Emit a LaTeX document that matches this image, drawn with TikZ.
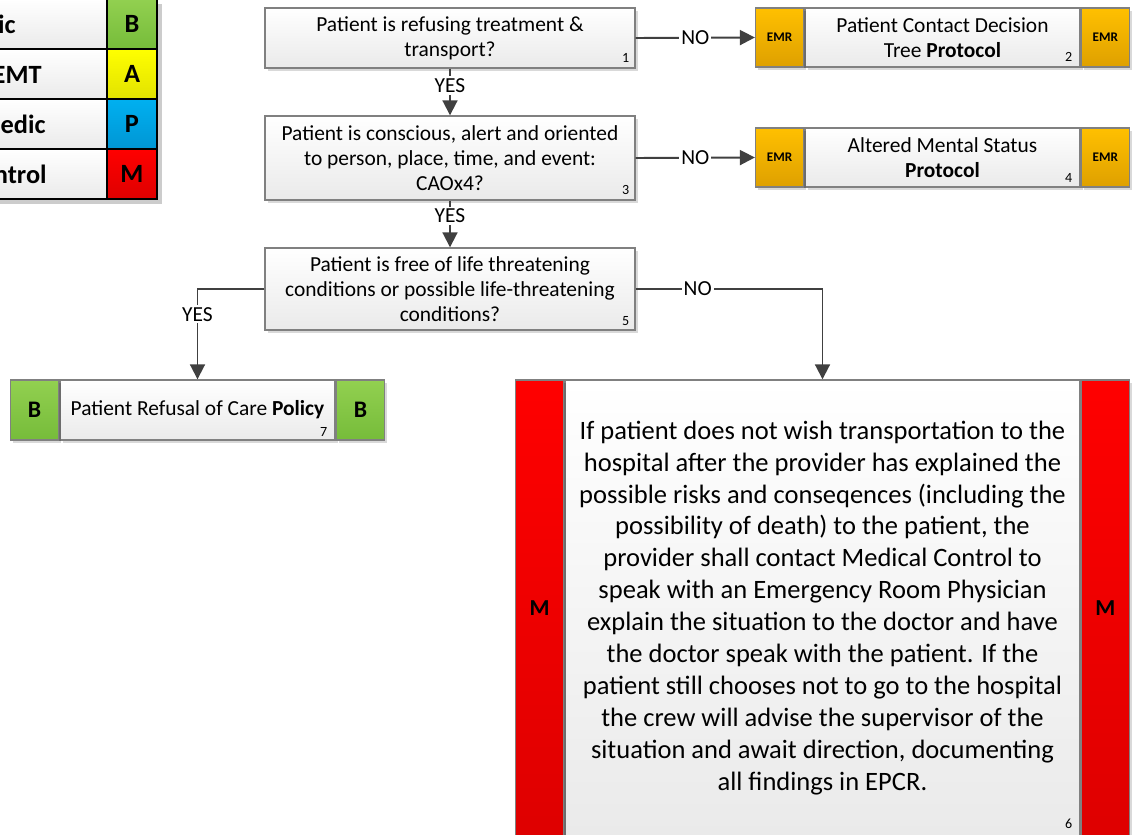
\documentclass[tikz,border=0pt]{standalone}
\usepackage{fontspec}
\setmainfont{Carlito}
\usepackage{tikz}
\usetikzlibrary{arrows.meta,shadows}
\definecolor{linecolor}{RGB}{64,64,64}
\definecolor{boxborder}{RGB}{128,128,128}
\definecolor{boxbottom}{RGB}{234,234,234}
\definecolor{emrtop}{RGB}{255,192,0}
\definecolor{emrbottom}{RGB}{222,160,0}
\definecolor{basictop}{RGB}{146,208,80}
\definecolor{basicbottom}{RGB}{118,188,58}
\definecolor{aemttop}{RGB}{255,255,0}
\definecolor{aemtbottom}{RGB}{226,226,0}
\definecolor{medictop}{RGB}{0,176,240}
\definecolor{medicbottom}{RGB}{0,150,212}
\definecolor{ctrltop}{RGB}{255,0,0}
\definecolor{ctrlbottom}{RGB}{222,0,0}
\newcommand{\pxu}{0.02cm}

\begin{document}
\begin{tikzpicture}[x=0.02cm, y=-0.02cm,
  shade/.style={drop shadow={shadow xshift=1.5pt, shadow yshift=-1.5pt, fill=black, opacity=0.15}},
  box/.style={shade, draw=boxborder, line width=0.8pt, top color=white, bottom color=boxbottom,
    align=center, inner sep=0pt, font=\fontsize{12.2}{14.2}\selectfont},
  bigbox/.style={box, font=\fontsize{15.1}{18.2}\selectfont},
  tag/.style={shade, draw=boxborder, line width=0.8pt, inner sep=0pt, minimum width=48*\pxu},
  emr/.style={tag, top color=emrtop, bottom color=emrbottom, font=\fontsize{7.5}{8}\selectfont\bfseries},
  bls/.style={tag, top color=basictop, bottom color=basicbottom, font=\fontsize{13.5}{15}\selectfont\bfseries},
  mc/.style={tag, top color=ctrltop, bottom color=ctrlbottom, font=\fontsize{13}{15}\selectfont\bfseries},
  num/.style={inner sep=0pt, font=\fontsize{8}{9}\selectfont},
  lbl/.style={fill=white, inner sep=1.2pt, font=\fontsize{12.2}{14}\selectfont},
  flow/.style={draw=linecolor, line width=1.1pt, -{Triangle[length=8.5pt,width=8.5pt]}},
  legcell/.style={draw=black, line width=1.7pt, inner sep=0pt, minimum height=50*\pxu}
]
\useasboundingbox (0,0) rectangle (1134,835);
\clip (0,0) rectangle (1134,835);

% Legend
\fill[black!20] (-300,4) rectangle (162,204);
\foreach \lab/\ltr/\col/\xe [count=\i] in {Basic/B/basic/16, Advanced EMT/A/aemt/42, Paramedic/P/medic/46, Medical Control/M/ctrl/47}{
  \node[legcell, minimum width=407*\pxu, top color=white, bottom color=boxbottom] (leg\i) at (-96.5,{-26+50*\i}) {};
  \node[legcell, minimum width=50*\pxu, top color=\col top, bottom color=\col bottom,
    font=\fontsize{15}{17}\selectfont\bfseries] (legtag\i) at (132,{-26+50*\i}) {\ltr};
  \node[anchor=east, inner sep=0pt, font=\fontsize{15}{17}\selectfont\bfseries] (legtxt\i) at (\xe,{-26+50*\i}) {\lab};
}

% Decision boxes
\node[box, minimum width=370*\pxu, minimum height=60*\pxu] (b1) at (450,38)
  {Patient is refusing treatment \&\\transport?};
\node[box, minimum width=370*\pxu, minimum height=84*\pxu] (b3) at (450,158)
  {Patient is conscious, alert and oriented\\to person, place, time, and event:\\CAOx4?};
\node[box, minimum width=370*\pxu, minimum height=82*\pxu] (b5) at (450,289)
  {Patient is free of life threatening\\conditions or possible life-threatening\\conditions?};

% Protocol boxes
\node[box, minimum width=275*\pxu, minimum height=59*\pxu] (b2) at (942.5,37.5)
  {Patient Contact Decision\\Tree \textbf{Protocol}};
\node[emr, minimum height=59*\pxu, anchor=east] (t2l) at (b2.west) {EMR};
\node[emr, minimum height=59*\pxu, anchor=west] (t2r) at (b2.east) {EMR};

\node[box, minimum width=275*\pxu, minimum height=59*\pxu] (b4) at (942.5,157.5)
  {Altered Mental Status\\\textbf{Protocol}};
\node[emr, minimum height=59*\pxu, anchor=east] (t4l) at (b4.west) {EMR};
\node[emr, minimum height=59*\pxu, anchor=west] (t4r) at (b4.east) {EMR};

\node[box, minimum width=275*\pxu, minimum height=60*\pxu] (b7) at (197.5,410)
  {Patient Refusal of Care \textbf{Policy}};
\node[bls, minimum height=60*\pxu, anchor=east] (t7l) at (b7.west) {B};
\node[bls, minimum height=60*\pxu, anchor=west] (t7r) at (b7.east) {B};

\node[bigbox, minimum width=515*\pxu, minimum height=456*\pxu] (b6) at (822.5,608)
  {If patient does not wish transportation to the\\
   hospital after the provider has explained the\\
   possible risks and conseqences (including the\\
   possibility of death) to the patient, the\\
   provider shall contact Medical Control to\\
   speak with an Emergency Room Physician\\
   explain the situation to the doctor and have\\
   the doctor speak with the patient. If the\\
   patient still chooses not to go to the hospital\\
   the crew will advise the supervisor of the\\
   situation and await direction, documenting\\
   all findings in EPCR.};
\node[mc, minimum height=456*\pxu, anchor=east] (t6l) at (b6.west) {M};
\node[mc, minimum height=456*\pxu, anchor=west] (t6r) at (b6.east) {M};

% Step numbers
\node[num] (n1) at ([shift={(-10,-11)}]b1.south east) {1};
\node[num] (n2) at ([shift={(-12,-11)}]b2.south east) {2};
\node[num] (n3) at ([shift={(-10,-11)}]b3.south east) {3};
\node[num] (n4) at ([shift={(-12,-10)}]b4.south east) {4};
\node[num] (n5) at ([shift={(-10,-10)}]b5.south east) {5};
\node[num] (n6) at ([shift={(-12,-13)}]b6.south east) {6};
\node[num] (n7) at ([shift={(-12,-9)}]b7.south east) {7};

% Connectors
\draw[flow] (b1.east) -- node[lbl]{NO} (t2l.west);
\draw[flow] (b3.east) -- node[lbl]{NO} (t4l.west);
\draw[flow] (b1.south) -- node[lbl, pos=0.36]{YES} (b3.north);
\draw[flow] (b3.south) -- node[lbl, pos=0.33]{YES} (b5.north);
\draw[flow] (b5.west) -| node[lbl, pos=0.64]{YES} (b7.north);
\draw[flow] (b5.east) -| node[lbl, pos=0.166]{NO} (b6.north);

\end{tikzpicture}
\end{document}
